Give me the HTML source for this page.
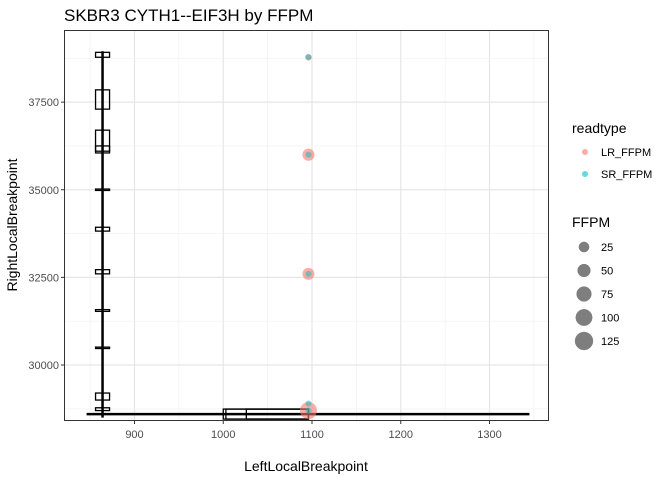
<!DOCTYPE html>
<html><head><meta charset="utf-8"><style>
body{margin:0;background:#fff;font-family:"Liberation Sans",sans-serif}
</style></head><body>
<svg id="c" width="672" height="480" xmlns="http://www.w3.org/2000/svg" font-family="Liberation Sans, sans-serif">
<text x="64" y="21" font-size="17" fill="#000">SKBR3 CYTH1--EIF3H by FFPM</text>
<g id="grid"></g>
<g id="marks"></g>
<rect x="64.5" y="30.5" width="484" height="390" fill="none" stroke="#333" stroke-width="1"/>
<g id="axes" font-size="11" fill="#4d4d4d"></g>
<text x="306" y="471" font-size="14" text-anchor="middle">LeftLocalBreakpoint</text>
<text transform="translate(17,225) rotate(-90)" font-size="14" text-anchor="middle">RightLocalBreakpoint</text>
<g>
<text x="572" y="133" font-size="14">readtype</text>
<circle cx="585" cy="152" r="3" fill="#F8766D" opacity="0.6"/>
<text x="601" y="156" font-size="11">LR_FFPM</text>
<circle cx="585" cy="174" r="3" fill="#00BFC4" opacity="0.6"/>
<text x="601" y="178" font-size="11">SR_FFPM</text>
</g>
<g id="sizeleg">
<text x="572" y="227" font-size="14">FFPM</text>
</g>
</svg>
<script>
const xTicks=[900,1000,1100,1200,1300];
const yTicks=[30000,32500,35000,37500];
const xs=v=>134.5+(v-900)*0.8875;
const ys=v=>365-(v-30000)*0.03505;
// vertical box segments at x=864: [low, high]
const vBoxLow=[38780,37300,36100,36050,34980,33820,32600,31530,30470,29000,28700];
const vBoxHigh=[38920,37850,36700,36250,35020,33930,32720,31580,30510,29200,28780];
const vLine=[864,28500,38950];
const hLine=[846,1345,28600];
const hBoxLow=[1000,1003,1026];
const hBoxHigh=[1096,1096,1096];
const lrY=[38780,36000,32600,28700];
const lrSize=[4,42,42,110];
const srY=[38780,36000,32600,28900,28700];
const ptX=1096;
const sizeBreaks=[25,50,75,100,125];
const rs=v=>2+Math.sqrt(v)*0.62;
const ns="http://www.w3.org/2000/svg";
function el(t,a,p){const e=document.createElementNS(ns,t);for(const k in a)e.setAttribute(k,a[k]);p.appendChild(e);return e;}
const G=document.getElementById('grid'),M=document.getElementById('marks'),A=document.getElementById('axes');
el('rect',{x:64.5,y:30.5,width:484,height:390,fill:'#fff'},G);
for(let i=0;i<xTicks.length;i++){const v=xTicks[i];
 el('line',{x1:xs(v-50),x2:xs(v-50),y1:31,y2:420,stroke:'#f0f0f0','stroke-width':0.7},G);
 const g=el('line',{x1:xs(v),x2:xs(v),y1:31,y2:420,stroke:'#e6e6e6','stroke-width':1.2},G);
 
 const t=el('text',{x:xs(v),y:438,'text-anchor':'middle'},A);t.textContent=v;
 
 el('line',{x1:xs(v),x2:xs(v),y1:421,y2:424,stroke:'#333'},A);}
el('line',{x1:xs(1350),x2:xs(1350),y1:31,y2:420,stroke:'#f0f0f0','stroke-width':0.7},G);
for(const v of [28750,31250,33750,36250,38750]) el('line',{x1:65,x2:548,y1:ys(v),y2:ys(v),stroke:'#f0f0f0','stroke-width':0.7},G);
for(let i=0;i<yTicks.length;i++){const v=yTicks[i];
 const g=el('line',{x1:65,x2:548,y1:ys(v),y2:ys(v),stroke:'#e6e6e6','stroke-width':1.2},G);
 
 const t=el('text',{x:59,y:ys(v)+4,'text-anchor':'end'},A);t.textContent=v;
 
 el('line',{x1:61,x2:64,y1:ys(v),y2:ys(v),stroke:'#333'},A);}
for(let i=0;i<vBoxLow.length;i++){
 const y1=ys(vBoxHigh[i]),y2=ys(vBoxLow[i]);
 const r=el('rect',{x:xs(vLine[0])-7,y:y1,width:14,height:Math.max(1,y2-y1),fill:'none',stroke:'#000','stroke-width':1.3},M);
 }
for(let i=0;i<hBoxLow.length;i++){
 const r=el('rect',{x:xs(hBoxLow[i]),y:ys(hLine[2])-5,width:xs(hBoxHigh[i])-xs(hBoxLow[i]),height:10,fill:'none',stroke:'#000','stroke-width':1.3},M);
 }
let l=el('line',{x1:xs(vLine[0]),x2:xs(vLine[0]),y1:ys(vLine[2]),y2:ys(vLine[1]),stroke:'#000','stroke-width':2.5},M);

l=el('line',{x1:xs(hLine[0]),x2:xs(hLine[1]),y1:ys(hLine[2]),y2:ys(hLine[2]),stroke:'#000','stroke-width':2.5},M);

for(let i=0;i<lrY.length;i++){const c=el('circle',{cx:xs(ptX),cy:ys(lrY[i]),r:rs(lrSize[i]),fill:'#F8766D',opacity:0.6},M);
 }
for(let i=0;i<srY.length;i++){const c=el('circle',{cx:xs(ptX),cy:ys(srY[i]),r:3,fill:'#00BFC4',opacity:0.5},M);
 }
const S=document.getElementById('sizeleg');
for(let i=0;i<sizeBreaks.length;i++){const y=247+i*23.5;
 const c=el('circle',{cx:584,cy:y,r:rs(sizeBreaks[i]),fill:'#000',opacity:0.5,stroke:'#000','stroke-width':0.5},S);
 
 const t=el('text',{x:601,y:y+4,'font-size':11},S);t.textContent=sizeBreaks[i];}
</script>
</body></html>
